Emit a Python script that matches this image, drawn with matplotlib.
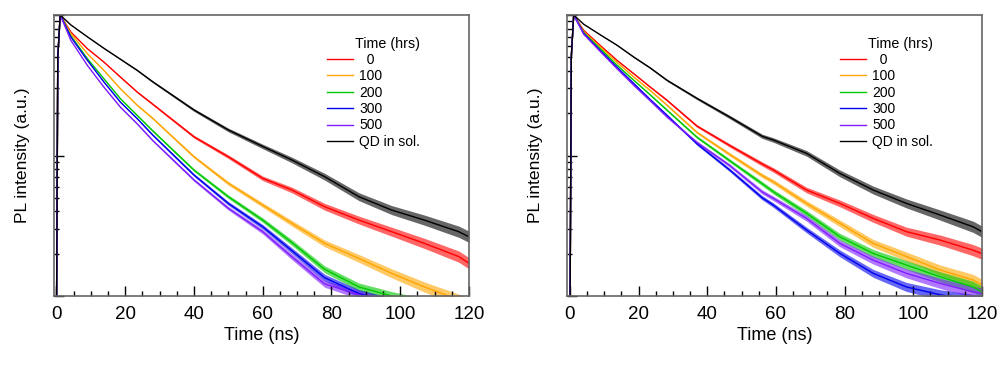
import matplotlib
matplotlib.use("Agg")
import matplotlib.pyplot as plt
import numpy as np
from matplotlib.ticker import LogLocator, MultipleLocator, NullFormatter

plt.rcParams['font.family'] = ['Liberation Sans', 'DejaVu Sans']

labels = ["  0", "100", "200", "300", "500", "QD in sol."]
colors = ["#ff0000", "#ffa500", "#00c800", "#0000ee", "#7f1fff", "#000000"]
legend_title = "Time (hrs)"

# ---- left panel (time in ns, normalized PL intensity) ----
t_left = [0.0, 0.4, 1.1, 4.2, 9, 13.8, 18.6, 23.5, 28, 40, 50, 60, 68.5, 78, 88, 97.5, 107, 117, 120]
left_0 = [0.005, 0.5, 1.0, 0.757, 0.576, 0.463, 0.362, 0.283, 0.232, 0.136, 0.098, 0.0688, 0.0568, 0.0432, 0.0347, 0.0287, 0.0237, 0.0191, 0.0171]
left_100 = [0.005, 0.5, 1.0, 0.736, 0.531, 0.404, 0.299, 0.228, 0.184, 0.098, 0.0634, 0.0444, 0.0329, 0.0237, 0.0185, 0.0145, 0.0116, 0.0094, 0.0088]
left_200 = [0.005, 0.5, 1.0, 0.709, 0.489, 0.352, 0.254, 0.193, 0.150, 0.0788, 0.0509, 0.0347, 0.0240, 0.0155, 0.0116, 0.0100, 0.0088, 0.0078, 0.0075]
left_300 = [0.005, 0.5, 1.0, 0.697, 0.476, 0.334, 0.240, 0.183, 0.140, 0.0727, 0.0456, 0.0311, 0.0210, 0.0135, 0.0104, 0.0090, 0.0080, 0.0070, 0.0068]
left_500 = [0.005, 0.5, 1.0, 0.660, 0.438, 0.307, 0.221, 0.168, 0.128, 0.0670, 0.0421, 0.0287, 0.0190, 0.0122, 0.0102, 0.0088, 0.0078, 0.0068, 0.0066]
left_sol = [0.005, 0.5, 1.0, 0.850, 0.700, 0.580, 0.485, 0.404, 0.335, 0.211, 0.152, 0.116, 0.0929, 0.0707, 0.0509, 0.0409, 0.0347, 0.0287, 0.0264]
left_noise = [0, 0, 0, 0.002, 0.003, 0.004, 0.005, 0.006, 0.007, 0.010, 0.013, 0.016, 0.020, 0.024, 0.028, 0.032, 0.036, 0.040, 0.040]

# ---- right panel ----
t_right = [0.0, 0.4, 1.1, 4.0, 8.8, 13.7, 18.6, 23.4, 28.3, 37, 46.5, 56, 59.2, 68.9, 78.6, 88.3, 98, 107.8, 117.4, 120]
right_0 = [0.005, 0.5, 1.0, 0.778, 0.608, 0.476, 0.382, 0.307, 0.247, 0.162, 0.118, 0.0870, 0.0790, 0.0568, 0.0456, 0.0357, 0.0287, 0.0250, 0.0212, 0.0200]
right_100 = [0.005, 0.5, 1.0, 0.760, 0.592, 0.460, 0.362, 0.290, 0.228, 0.146, 0.1020, 0.0720, 0.0651, 0.0456, 0.0329, 0.0237, 0.0191, 0.0153, 0.0130, 0.0120]
right_200 = [0.005, 0.5, 1.0, 0.750, 0.576, 0.440, 0.343, 0.270, 0.210, 0.135, 0.0920, 0.0630, 0.0553, 0.0388, 0.0264, 0.0201, 0.0166, 0.0137, 0.0116, 0.0107]
right_300 = [0.005, 0.5, 1.0, 0.740, 0.560, 0.425, 0.325, 0.250, 0.193, 0.121, 0.0790, 0.0500, 0.0444, 0.0295, 0.0201, 0.0145, 0.0116, 0.0102, 0.0094, 0.0090]
right_500 = [0.005, 0.5, 1.0, 0.730, 0.551, 0.415, 0.316, 0.245, 0.188, 0.124, 0.0850, 0.0550, 0.0496, 0.0357, 0.0237, 0.0180, 0.0145, 0.0123, 0.0107, 0.0104]
right_sol = [0.005, 0.5, 1.0, 0.860, 0.724, 0.610, 0.502, 0.420, 0.343, 0.255, 0.188, 0.137, 0.129, 0.1036, 0.0746, 0.0568, 0.0456, 0.0377, 0.0311, 0.0287]
right_noise = [0, 0, 0, 0.002, 0.003, 0.004, 0.005, 0.006, 0.007, 0.009, 0.012, 0.015, 0.016, 0.020, 0.024, 0.028, 0.032, 0.036, 0.040, 0.040]

x_ticks = [0, 20, 40, 60, 80, 100, 120]

fig = plt.figure(figsize=(10.08, 3.69), dpi=100)
ax_l = fig.add_axes([54/1008, 73/369, 415/1008, 281/369])
ax_r = fig.add_axes([567/1008, 73/369, 415/1008, 281/369])

panels = [
    (ax_l, t_left, [left_0, left_100, left_200, left_300, left_500, left_sol], left_noise, -0.7),
    (ax_r, t_right, [right_0, right_100, right_200, right_300, right_500, right_sol], right_noise, -0.85),
]

for ax, t, series, noise, x0 in panels:
    nz = np.power(10.0, np.array(noise))
    for ys, c, lab in zip(series, colors, labels):
        ya = np.array(ys)
        ax.fill_between(t, ya / nz, ya * nz, color=c, alpha=0.6, lw=0)
        ax.plot(t, ys, color=c, lw=1.0, label=lab)
    ax.set_yscale('log')
    ax.set_ylim(0.01, 1.0)
    ax.set_xlim(x0, 120)
    ax.set_xticks(x_ticks)
    ax.xaxis.set_minor_locator(MultipleLocator(5))
    ax.yaxis.set_major_locator(LogLocator(base=10, numticks=10))
    ax.yaxis.set_minor_locator(LogLocator(base=10, subs=range(2, 10), numticks=20))
    ax.yaxis.set_major_formatter(NullFormatter())
    ax.yaxis.set_minor_formatter(NullFormatter())
    ax.tick_params(which='both', direction='in', top=False, right=False, width=1.0, color='black')
    ax.tick_params(which='major', length=7.5)
    ax.tick_params(which='minor', length=3.8)
    ax.tick_params(axis='x', labelsize=13.5, pad=7)
    for sp in ax.spines.values():
        sp.set_color('#666666')
        sp.set_linewidth(1.2)
    ax.set_xlabel("Time (ns)", fontsize=13, labelpad=3)
    ax.set_ylabel("PL intensity (a.u.)", fontsize=12.6, labelpad=14)
    leg = ax.legend(title=legend_title, loc='upper left', bbox_to_anchor=(0.64, 0.948),
                    frameon=False, fontsize=10, title_fontsize=10.3, handlelength=1.9,
                    handletextpad=0.45, labelspacing=0.17, borderpad=0)
    leg._legend_box.align = 'right'

fig.savefig("out.png", dpi=100)
